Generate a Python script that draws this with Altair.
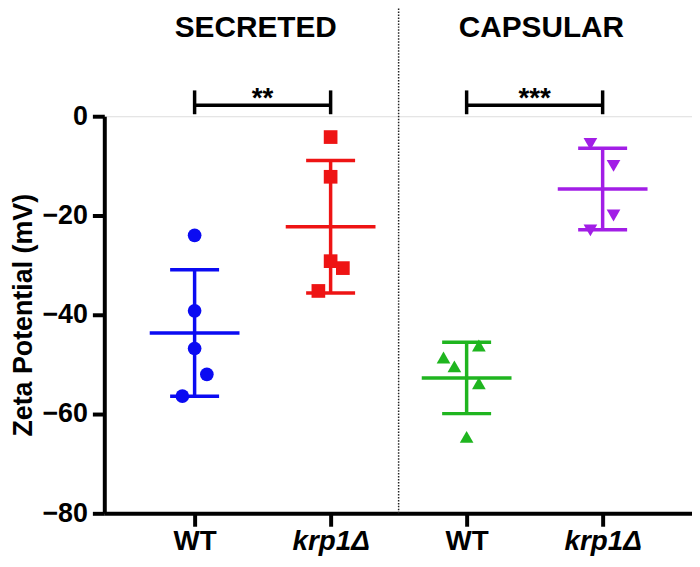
import json
import altair as alt
import pandas as pd

# ---- data ----
groups = ["SEC_WT", "SEC_KRP", "CAP_WT", "CAP_KRP"]
x_positions = [1, 2, 3, 4]
x_labels = ["WT", "krp1Δ", "WT", "krp1Δ"]
x_italic = [False, True, False, True]
colors = ["#0b0bf2", "#ee1414", "#1fb51f", "#a21ee6"]
shapes = ["circle", "square", "triangle-up", "triangle-down"]

sec_wt = [-24.0, -39.2, -46.8, -52.0, -56.4]
sec_krp = [-4.2, -12.2, -29.2, -30.6, -35.2]
cap_wt = [-46.2, -48.6, -50.4, -53.8, -64.6]
cap_krp = [-5.6, -10.0, -20.0, -23.0]

# horizontal scatter of the points inside each column (category units)
sec_wt_jit = [0.0, 0.0, 0.0, 0.09, -0.09]
sec_krp_jit = [0.0, 0.0, 0.0, 0.09, -0.09]
cap_wt_jit = [0.09, -0.17, -0.09, 0.09, 0.0]
cap_krp_jit = [-0.09, 0.08, 0.08, -0.09]

panel_titles = ["SECRETED", "CAPSULAR"]
panel_title_x = [1.45, 3.55]
panel_title_y = 16.0

brackets_from = [1, 3]
brackets_to = [2, 4]
brackets_stars = ["**", "***"]
bracket_y = 2.2
bracket_tick_lo = 0.4
bracket_tick_hi = 5.2
stars_y = 1.8

divider_x = 2.5
y_ticks = [-80, -60, -40, -20, 0]

# ---- tables ----
rows = []
for g, p, vals, jit in zip(groups, x_positions,
                           [sec_wt, sec_krp, cap_wt, cap_krp],
                           [sec_wt_jit, sec_krp_jit, cap_wt_jit, cap_krp_jit]):
    for v, j in zip(vals, jit):
        rows.append({"grp": g, "pos": p, "xj": p + j, "v": v})
df = pd.DataFrame(rows)

titles_df = pd.DataFrame({"tx": panel_title_x, "ty": [panel_title_y] * 2, "label": panel_titles})
br_df = pd.DataFrame({"x1": brackets_from, "x2": brackets_to, "stars": brackets_stars})
br_df["xm"] = (br_df["x1"] + br_df["x2"]) / 2
br_df["yb"] = bracket_y
br_df["ys"] = stars_y
br_ticks = pd.DataFrame({"x": brackets_from + brackets_to, "ylo": bracket_tick_lo, "yhi": bracket_tick_hi})
div_df = pd.DataFrame({"x": [divider_x], "ylo": [-80], "yhi": [22.6]})

FONT = "Liberation Sans"

xscale = alt.Scale(domain=[0.336, 4.657], nice=False, zero=False)
yscale = alt.Scale(domain=[-80, 0], nice=False, zero=False)

italic_test = " || ".join(f"datum.value == {p}" for p, it in zip(x_positions, x_italic) if it)
xaxis = alt.Axis(
    title="", values=x_positions, grid=False,
    labelExpr=f"{json.dumps(x_labels, ensure_ascii=False)}[datum.value - 1]",
    labelFont=FONT, labelFontSize=28, labelFontWeight="bold", labelColor="black",
    labelFontStyle={"condition": {"test": italic_test, "value": "italic"}, "value": "normal"},
    labelPadding=1, tickSize=13, tickWidth=4, tickColor="black",
    domainWidth=4, domainColor="black",
)
yaxis = alt.Axis(
    title="Zeta Potential (mV)", values=y_ticks, grid=False,
    labelFont=FONT, labelFontSize=27, labelFontWeight="bold", labelColor="black",
    labelPadding=5, tickSize=12, tickWidth=4, tickColor="black",
    domainWidth=4, domainColor="black",
    titleFont=FONT, titleFontSize=27, titleFontWeight="bold", titleColor="black",
    titlePadding=5, titleLimit=600,
)


def X(f):
    return alt.X(f, type="quantitative", scale=xscale, axis=xaxis)


def Y(f):
    return alt.Y(f, type="quantitative", scale=yscale, axis=yaxis)


color = alt.Color("grp:N", scale=alt.Scale(domain=groups, range=colors), legend=None)
shape = alt.Shape("grp:N", scale=alt.Scale(domain=groups, range=shapes), legend=None)

base = alt.Chart(df)
agg = base.transform_aggregate(
    m="mean(v)", sd="stdev(v)", groupby=["grp", "pos"]
).transform_calculate(
    hi="datum.m + datum.sd", lo="datum.m - datum.sd",
    ml="datum.pos - 0.33", mr="datum.pos + 0.33",
    cl="datum.pos - 0.18", cr="datum.pos + 0.18",
)

LW = 3.5
vbar = agg.mark_rule(strokeWidth=LW).encode(x=X("pos"), y=Y("lo"), y2="hi:Q", color=color)
mean_line = agg.mark_rule(strokeWidth=LW).encode(x=X("ml"), x2="mr:Q", y=Y("m"), color=color)
cap_hi = agg.mark_rule(strokeWidth=LW).encode(x=X("cl"), x2="cr:Q", y=Y("hi"), color=color)
cap_lo = agg.mark_rule(strokeWidth=LW).encode(x=X("cl"), x2="cr:Q", y=Y("lo"), color=color)

points = base.mark_point(filled=True, size=190, opacity=1).encode(
    x=X("xj"), y=Y("v"), color=color, shape=shape
)

divider = alt.Chart(div_df).mark_rule(strokeWidth=1.5, strokeDash=[1.5, 1.5], color="#222222").encode(
    x=X("x"), y=Y("ylo"), y2="yhi:Q"
)

br_h = alt.Chart(br_df).mark_rule(strokeWidth=3.5, color="black").encode(
    x=X("x1"), x2="x2:Q", y=Y("yb")
)
br_v = alt.Chart(br_ticks).mark_rule(strokeWidth=3.5, color="black").encode(
    x=X("x"), y=Y("ylo"), y2="yhi:Q"
)
stars = alt.Chart(br_df).mark_text(
    font=FONT, fontSize=28, fontWeight="bold", baseline="alphabetic", align="center", color="black"
).encode(x=X("xm"), y=Y("ys"), text="stars:N")

titles = alt.Chart(titles_df).mark_text(
    font=FONT, fontSize=30, fontWeight="bold", baseline="alphabetic", align="center", color="black"
).encode(x=X("tx"), y=Y("ty"), text="label:N")

chart = alt.layer(
    divider, vbar, mean_line, cap_hi, cap_lo, points, br_h, br_v, stars, titles
).properties(
    width=592, height=400,
    autosize=alt.AutoSizeParams(type="none"),
    padding={"left": 97, "top": 107, "right": 0, "bottom": 44},
).configure_view(stroke=None).configure(background="white")

chart.save("out.html", embed_options={"renderer": "svg", "actions": False})
